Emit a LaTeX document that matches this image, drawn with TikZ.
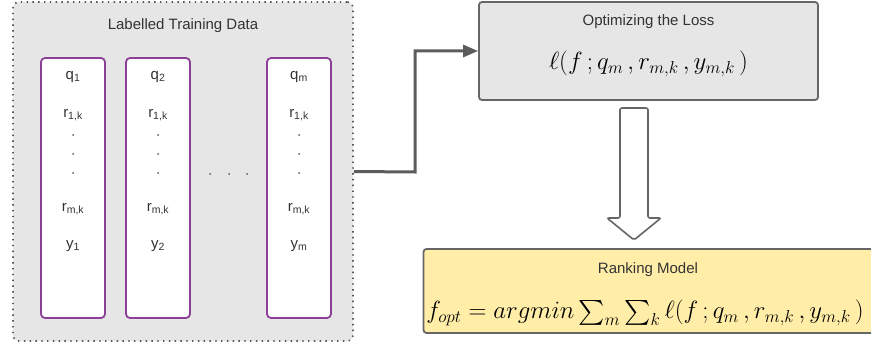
\documentclass[tikz,border=0pt]{standalone}
\usepackage{amsmath}
\usepackage{fontspec}
\setmainfont{Liberation Sans}
\usetikzlibrary{arrows.meta}

\definecolor{txtgray}{HTML}{333333}
\definecolor{linegray}{HTML}{666666}
\definecolor{boxgray}{HTML}{E6E6E6}
\definecolor{colpurple}{HTML}{8C3F96}
\definecolor{modelyellow}{HTML}{FFEDA8}

\begin{document}
\begin{tikzpicture}[x=1pt,y=-1pt]
\tikzstyle{every node}=[inner sep=0pt, text=txtgray, font=\fontsize{15}{18}\selectfont]
\tikzstyle{group}=[draw=linegray!85!black, line width=1.7pt, dash pattern=on 1.4pt off 4.4pt, rounded corners=6pt, fill=boxgray]
\tikzstyle{column}=[draw=colpurple, line width=1.8pt, rounded corners=4pt, fill=white]
\tikzstyle{panel}=[draw=linegray, line width=1.8pt, rounded corners=3pt]
\tikzstyle{formula}=[font=\fontsize{27}{32}\selectfont, text=black]
\tikzstyle{dot}=[circle, fill=txtgray!80, inner sep=0pt, minimum size=2pt]
\useasboundingbox (0,0) rectangle (871,345);
% training data
\node (data) [group, minimum width=340pt, minimum height=339pt] at (183,171.5) {};
\node (datatitle) at (183,26) {Labelled Training Data};
\foreach \c/\x/\i in {1/73/1, 2/158/2, 3/299/m} {
  \node (c\c) [column, minimum width=64pt, minimum height=260pt] at (\x,188) {};
  \node (q\c) at (\x,77) {q\textsubscript{\i}};
  \node (r\c) at (\x,115) {r\textsubscript{1,k}};
  \node (a\c) [dot] at (\x,135) {};
  \node (b\c) [dot] at (\x,154) {};
  \node (d\c) [dot] at (\x,173) {};
  \node (s\c) at (\x,209) {r\textsubscript{m,k}};
  \node (y\c) at (\x,246) {y\textsubscript{\i}};
}
\node (h1) [dot] at (210,174) {};
\node (h2) [dot] at (229,174) {};
\node (h3) [dot] at (247,174) {};
% loss
\node (loss) [panel, fill=boxgray, minimum width=339pt, minimum height=98pt] at (648.5,51) {};
\node (losstitle) at (648.5,22) {Optimizing the Loss};
\node (lossf) [formula] at (648.5,64) {$\ell(f\,;q_m\,,r_{m,k}\,,y_{m,k}\,)$};
% ranking model
\node (model) [panel, fill=modelyellow, minimum width=452pt, minimum height=84pt] at (649.5,291) {};
\node (modeltitle) at (648,270) {Ranking Model};
\node (modelf) [formula, font=\fontsize{26}{30}\selectfont] at (645,313) {$f_{opt}=argmin \textstyle\sum_m \sum_k \ell(f\,;q_m\,,r_{m,k}\,,y_{m,k}\,)$};
% connectors
\coordinate (bend) at (415,172);
\draw [line width=3pt, draw=linegray!90!black, -{Triangle[length=15pt,width=12pt]}] (data.east) -- (bend) |- (loss.west);
\coordinate (dtop) at (634,108);
\coordinate (dtip) at (634,240);
\draw [draw=linegray, fill=white, line width=1.6pt, rounded corners=2pt]
  (dtop) ++(-14,0) -- ++(0,110) -- ++(-13,0) -- (dtip) -- ++(27,-22) -- ++(-13,0) -- ++(0,-110) -- cycle;
\end{tikzpicture}
\end{document}
